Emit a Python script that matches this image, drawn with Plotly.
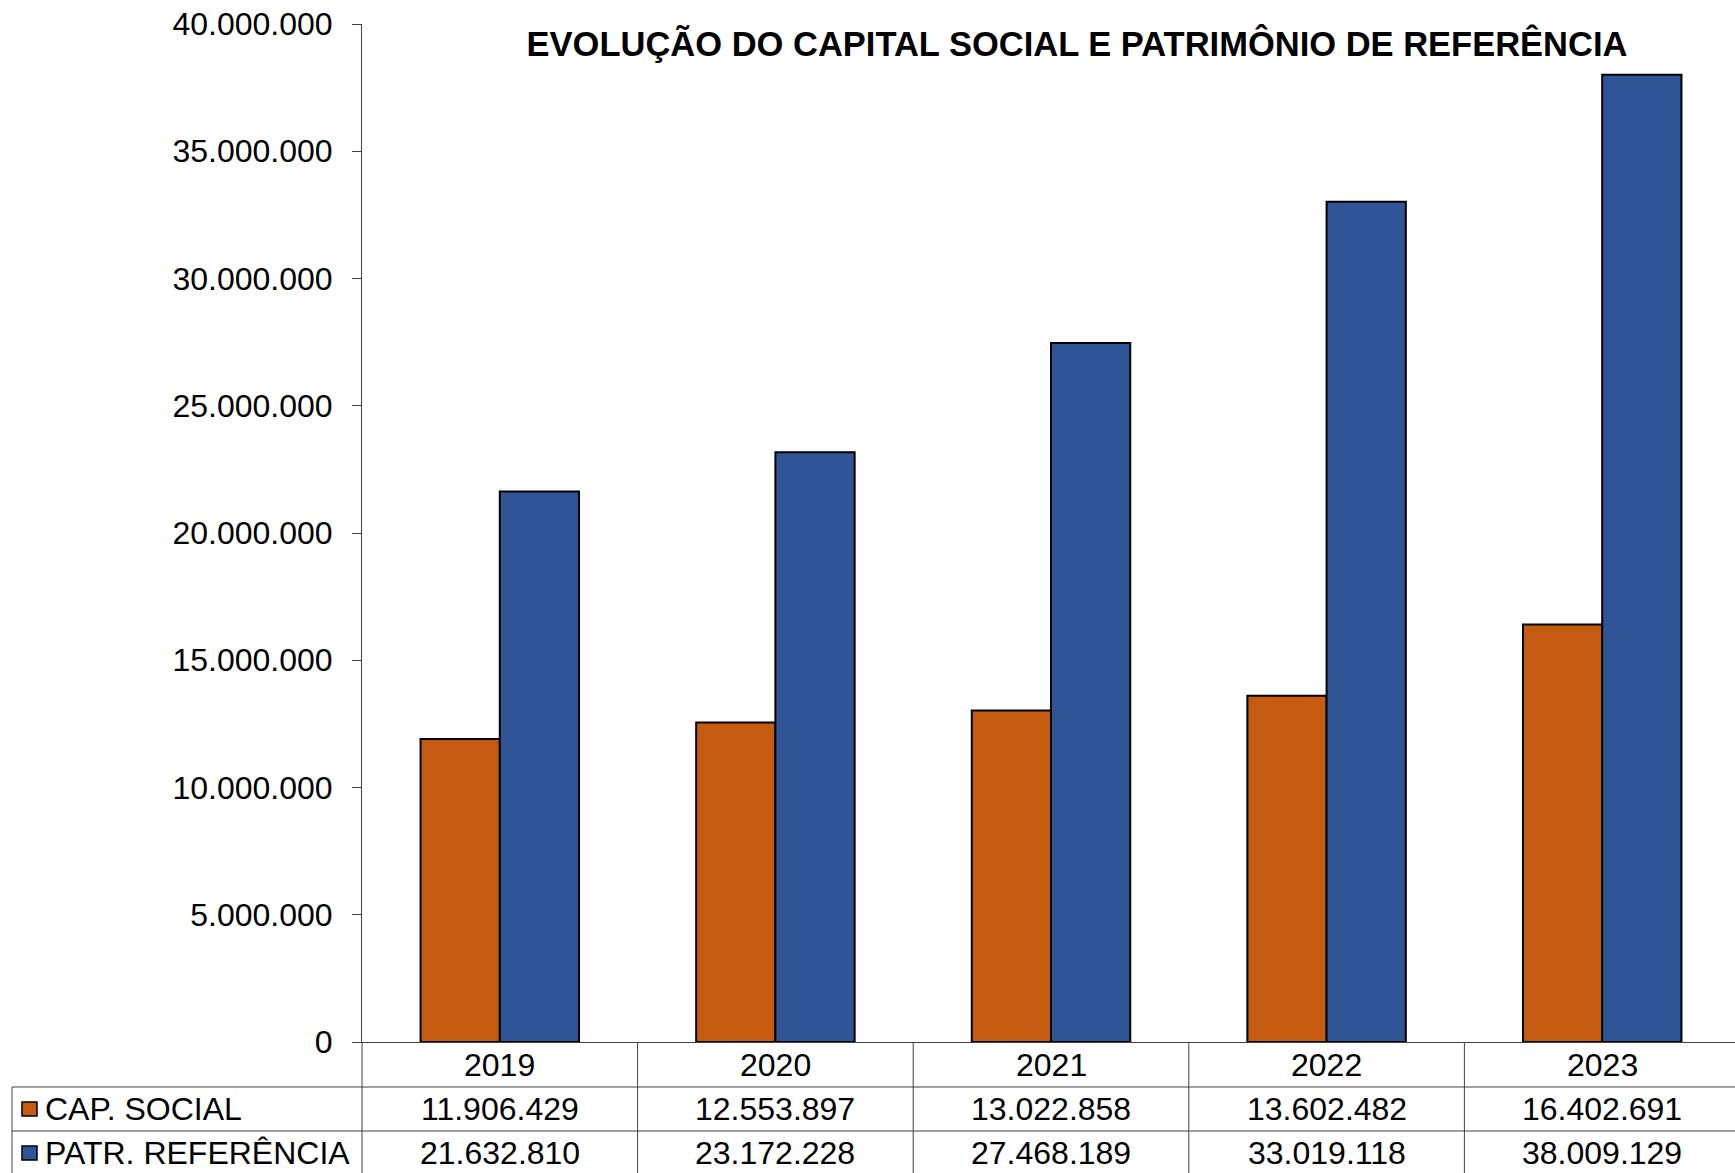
import plotly.graph_objects as go

# ---- data ----
years = ["2019", "2020", "2021", "2022", "2023"]
cap_social = [11906429, 12553897, 13022858, 13602482, 16402691]
patr_ref = [21632810, 23172228, 27468189, 33019118, 38009129]
series_names = ["CAP. SOCIAL", "PATR. REFERÊNCIA"]
y_ticks = [0, 5000000, 10000000, 15000000, 20000000, 25000000, 30000000, 35000000, 40000000]
title_text = "EVOLUÇÃO DO CAPITAL SOCIAL E PATRIMÔNIO DE REFERÊNCIA"

# ---- style ----
ORANGE = "#C55A11"
BLUE = "#2F5597"
FONT = "Liberation Sans, Arial, sans-serif"
LINE = "#404040"
FS = 32
W, H = 1740, 1173
ML, MR, MT, MB = 362, 0, 24, 131
PW = W - ML - MR
PH = H - MT - MB


def fmt(v):
    return f"{v:,}".replace(",", ".")


def px_x(px):
    return (px - ML) / PW


def px_y(py):
    return (H - MB - py) / PH


fig = go.Figure()
for name, vals, col in [(series_names[0], cap_social, ORANGE), (series_names[1], patr_ref, BLUE)]:
    fig.add_trace(go.Bar(
        x=years, y=vals, name=name,
        marker=dict(color=col, line=dict(color="black", width=2)),
        showlegend=False,
    ))

shapes = []
annotations = []

# table vertical dividers (category boundaries)
for i in range(1, len(years) + 1):
    shapes.append(dict(type="line", xref="x", yref="paper",
                       x0=i - 0.5, x1=i - 0.5, y0=0, y1=px_y(H + 5),
                       line=dict(color=LINE, width=1)))
# y-axis continuation in table
shapes.append(dict(type="line", xref="paper", yref="paper", x0=0, x1=0,
                   y0=0, y1=px_y(H + 5), line=dict(color=LINE, width=1)))
# left border of label column
shapes.append(dict(type="line", xref="paper", yref="paper", x0=px_x(12), x1=px_x(12),
                   y0=px_y(1087), y1=px_y(H + 5), line=dict(color=LINE, width=1)))
# horizontal row lines
for py in [1087, 1131]:
    shapes.append(dict(type="line", xref="paper", yref="paper", x0=px_x(12), x1=1,
                       y0=px_y(py), y1=px_y(py), line=dict(color=LINE, width=1)))

row_y = [px_y(1065), px_y(1109), px_y(1153)]
for i, yr in enumerate(years):
    for r, txt in enumerate([yr, fmt(cap_social[i]), fmt(patr_ref[i])]):
        annotations.append(dict(xref="x", yref="paper", x=i, y=row_y[r], text=txt,
                                showarrow=False, xanchor="center", yanchor="middle",
                                font=dict(family=FONT, size=FS, color="black")))

# legend keys in table
for k, (name, col) in enumerate([(series_names[0], ORANGE), (series_names[1], BLUE)]):
    cy = [1109, 1153][k]
    shapes.append(dict(type="rect", xref="paper", yref="paper",
                       x0=px_x(22), x1=px_x(37), y0=px_y(cy - 7), y1=px_y(cy + 7),
                       fillcolor=col, line=dict(color="black", width=1.5)))
    annotations.append(dict(xref="paper", yref="paper", x=px_x(43), y=row_y[k + 1], text=name,
                            showarrow=False, xanchor="left", yanchor="middle",
                            font=dict(family=FONT, size=FS, color="black")))

fig.update_layout(
    width=W, height=H,
    margin=dict(l=ML, r=MR, t=MT, b=MB, pad=0),
    paper_bgcolor="white", plot_bgcolor="white",
    separators=",.",
    barmode="group", bargap=0.425, bargroupgap=0,
    title=dict(text="<b>" + title_text + "</b>", x=px_x(1077), xref="paper", xanchor="center",
               y=1 - 44 / H, yref="container", yanchor="middle",
               font=dict(family=FONT, size=34.5, color="black")),
    font=dict(family=FONT, color="black"),
    shapes=shapes, annotations=annotations,
    xaxis=dict(range=[-0.5, 4.5], showticklabels=False, ticks="", showgrid=False,
               showline=True, linecolor=LINE, linewidth=1, zeroline=False, fixedrange=True),
    yaxis=dict(range=[0, 40000000], tickvals=y_ticks, ticktext=[fmt(v) for v in y_ticks],
               ticks="outside", ticklen=9, tickcolor=LINE, tickwidth=1,
               showline=True, linecolor=LINE, linewidth=1, showgrid=False, zeroline=False,
               ticklabelstandoff=13,
               tickfont=dict(family=FONT, size=FS, color="black")),
)

fig.write_html(
    "out.html",
    config={"displayModeBar": False},
    post_script="document.body.style.margin='0';document.body.style.overflow='hidden';",
)
